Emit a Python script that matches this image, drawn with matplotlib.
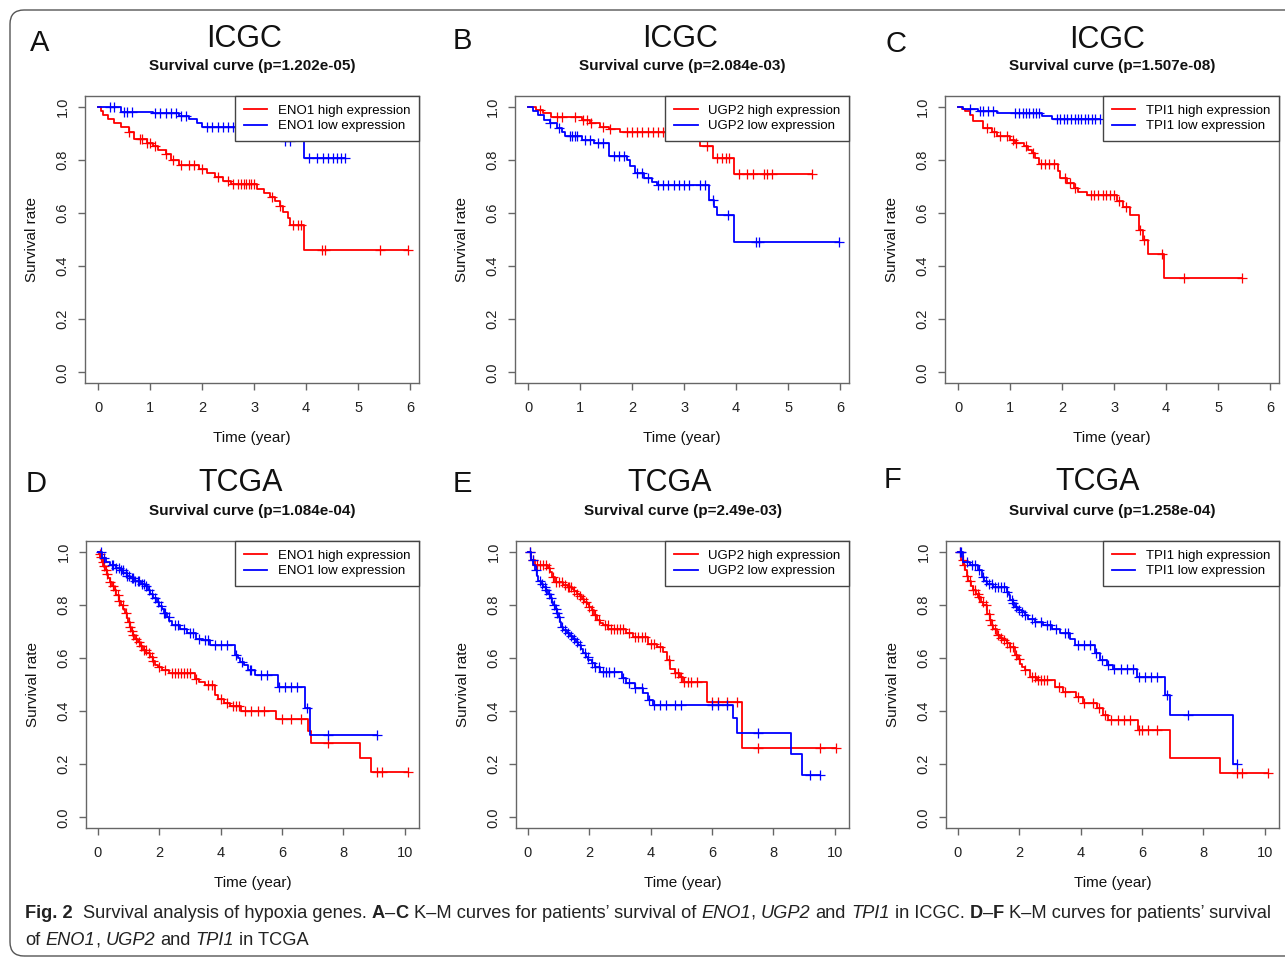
import numpy as np
import matplotlib
matplotlib.use('Agg')
import matplotlib.pyplot as plt
from matplotlib.patches import FancyBboxPatch

plt.rcParams['font.family'] = 'Liberation Sans'

# ---- KM curves: drop times, survival after drop, censor times ----
# A: ICGC ENO1
a_hi_t = [0, 0.05, 0.1, 0.2, 0.3, 0.45, 0.6, 0.7, 0.95, 1.05, 1.15, 1.3, 1.4, 1.55, 1.95, 2.1, 2.25, 2.4, 2.55, 3.05, 3.2, 3.3, 3.4, 3.5, 3.55, 3.65, 3.7, 3.95]
a_hi_s = [1.0, 0.985, 0.97, 0.955, 0.94, 0.925, 0.905, 0.88, 0.865, 0.85, 0.835, 0.82, 0.80, 0.78, 0.765, 0.75, 0.735, 0.72, 0.71, 0.69, 0.675, 0.66, 0.645, 0.625, 0.605, 0.58, 0.555, 0.46]
a_hi_c = [0.6, 0.8, 0.85, 0.95, 1.0, 1.1, 1.3, 1.45, 1.6, 1.75, 1.85, 2.0, 2.3, 2.5, 2.6, 2.7, 2.75, 2.8, 2.85, 2.9, 2.95, 3.0, 3.35, 3.5, 3.75, 3.85, 3.9, 4.3, 4.37, 5.42, 5.96]
a_lo_t = [0, 0.45, 1.05, 1.55, 1.75, 1.9, 2.0, 3.3, 3.5, 3.95]
a_lo_s = [1.0, 0.98, 0.975, 0.965, 0.955, 0.94, 0.925, 0.905, 0.87, 0.805]
a_lo_c = [0.24, 0.3, 0.5, 0.55, 0.65, 1.1, 1.2, 1.3, 1.4, 1.5, 1.6, 1.7, 2.1, 2.2, 2.3, 2.4, 2.5, 2.6, 2.7, 2.8, 2.9, 3.0, 3.1, 3.2, 3.6, 3.7, 4.05, 4.2, 4.33, 4.43, 4.51, 4.59, 4.68, 4.75]

# B: ICGC UGP2
b_hi_t = [0, 0.16, 0.29, 0.45, 1.03, 1.19, 1.38, 1.55, 1.77, 3.1, 3.3, 3.55, 3.95]
b_hi_s = [1.0, 0.987, 0.975, 0.961, 0.95, 0.938, 0.925, 0.915, 0.903, 0.885, 0.85, 0.807, 0.745]
b_hi_c = [0.23, 0.55, 0.65, 0.9, 1.06, 1.13, 1.22, 1.45, 1.58, 1.9, 2.0, 2.1, 2.2, 2.3, 2.4, 2.5, 2.6, 2.67, 3.44, 3.63, 3.72, 3.8, 3.87, 4.05, 4.2, 4.33, 4.53, 4.59, 4.69, 5.45]
b_lo_t = [0, 0.1, 0.2, 0.3, 0.42, 0.55, 0.65, 0.71, 1.03, 1.26, 1.55, 1.9, 1.96, 2.06, 2.22, 2.38, 2.47, 3.47, 3.58, 3.63, 3.95]
b_lo_s = [1.0, 0.983, 0.97, 0.95, 0.938, 0.919, 0.906, 0.888, 0.875, 0.862, 0.813, 0.8, 0.775, 0.75, 0.73, 0.718, 0.706, 0.649, 0.624, 0.593, 0.492]
b_lo_c = [0.42, 0.6, 0.8, 0.85, 0.9, 0.95, 1.1, 1.2, 1.35, 1.45, 1.65, 1.75, 1.85, 2.1, 2.2, 2.3, 2.5, 2.6, 2.7, 2.8, 2.9, 3.0, 3.1, 3.3, 3.4, 3.55, 3.85, 4.38, 4.44, 5.97]

# C: ICGC TPI1
c_hi_t = [0, 0.07, 0.13, 0.23, 0.29, 0.49, 0.65, 0.74, 1.0, 1.1, 1.26, 1.35, 1.42, 1.48, 1.55, 1.93, 1.96, 2.09, 2.22, 2.31, 2.47, 3.05, 3.18, 3.31, 3.47, 3.56, 3.66, 3.95]
c_hi_s = [1.0, 0.99, 0.983, 0.97, 0.945, 0.919, 0.903, 0.888, 0.875, 0.862, 0.85, 0.837, 0.825, 0.806, 0.785, 0.757, 0.73, 0.712, 0.693, 0.68, 0.668, 0.643, 0.624, 0.593, 0.536, 0.498, 0.447, 0.356]
c_hi_c = [0.55, 0.7, 0.8, 0.95, 1.05, 1.12, 1.3, 1.45, 1.6, 1.68, 1.75, 1.85, 2.05, 2.15, 2.25, 2.55, 2.62, 2.7, 2.78, 2.85, 2.92, 3.0, 3.1, 3.22, 3.5, 3.58, 3.93, 4.35, 5.45]
c_lo_t = [0, 0.1, 0.39, 0.74, 1.61, 1.8]
c_lo_s = [1.0, 0.99, 0.983, 0.975, 0.965, 0.955]
c_lo_c = [0.24, 0.42, 0.49, 0.58, 0.68, 1.1, 1.17, 1.24, 1.3, 1.37, 1.44, 1.5, 1.56, 1.9, 1.97, 2.04, 2.1, 2.17, 2.24, 2.3, 2.37, 2.44, 2.5, 2.57, 2.64, 2.72]

# D: TCGA ENO1
d_hi_t = [0, 0.03, 0.08, 0.13, 0.18, 0.23, 0.28, 0.33, 0.38, 0.45, 0.52, 0.6, 0.68, 0.75, 0.82, 0.88, 0.93, 0.98, 1.03, 1.08, 1.13, 1.2, 1.3, 1.38, 1.48, 1.58, 1.68, 1.78, 1.85, 1.95, 2.1, 2.3, 3.15, 3.3, 3.5, 3.8, 3.9, 4.1, 4.3, 4.65, 5.8, 6.85, 6.95, 8.55, 8.9]
d_hi_s = [1.0, 0.99, 0.98, 0.96, 0.945, 0.93, 0.915, 0.9, 0.885, 0.87, 0.855, 0.835, 0.815, 0.8, 0.785, 0.77, 0.75, 0.735, 0.715, 0.7, 0.685, 0.67, 0.66, 0.645, 0.63, 0.62, 0.605, 0.59, 0.575, 0.565, 0.555, 0.545, 0.52, 0.51, 0.5, 0.46, 0.445, 0.43, 0.42, 0.4, 0.37, 0.325, 0.28, 0.225, 0.17]
d_hi_c = [0.05, 0.1, 0.15, 0.2, 0.25, 0.3, 0.4, 0.5, 0.55, 0.65, 0.7, 0.8, 0.9, 1.0, 1.05, 1.1, 1.15, 1.25, 1.35, 1.4, 1.5, 1.55, 1.65, 1.75, 1.8, 2.0, 2.2, 2.4, 2.5, 2.6, 2.7, 2.8, 2.9, 3.0, 3.2, 3.6, 3.7, 4.0, 4.2, 4.4, 4.5, 4.6, 4.8, 5.0, 5.2, 5.4, 6.0, 6.3, 6.6, 7.5, 9.1, 9.25, 10.1]
d_lo_t = [0, 0.12, 0.25, 0.39, 0.6, 0.75, 0.83, 0.95, 1.04, 1.2, 1.4, 1.53, 1.62, 1.7, 1.8, 1.91, 2.0, 2.07, 2.15, 2.24, 2.32, 2.4, 2.67, 2.89, 3.21, 3.43, 3.65, 4.46, 4.55, 4.63, 4.75, 4.9, 5.12, 5.87, 6.74, 6.91]
d_lo_s = [1.0, 0.975, 0.96, 0.95, 0.94, 0.93, 0.92, 0.91, 0.9, 0.89, 0.88, 0.87, 0.855, 0.842, 0.825, 0.81, 0.795, 0.785, 0.77, 0.754, 0.74, 0.723, 0.71, 0.692, 0.673, 0.667, 0.648, 0.61, 0.598, 0.585, 0.573, 0.554, 0.535, 0.492, 0.411, 0.311]
d_lo_c = [0.1, 0.2, 0.45, 0.5, 0.6, 0.7, 0.75, 0.8, 0.9, 0.95, 1.0, 1.1, 1.15, 1.2, 1.3, 1.35, 1.45, 1.5, 1.55, 1.65, 1.75, 1.85, 1.95, 2.05, 2.15, 2.2, 2.3, 2.5, 2.6, 2.8, 3.0, 3.1, 3.3, 3.5, 3.6, 3.8, 4.0, 4.2, 4.5, 4.7, 4.95, 5.0, 5.3, 5.5, 5.9, 6.1, 6.3, 6.5, 6.8, 7.5, 9.08]

# E: TCGA UGP2
e_hi_t = [0, 0.1, 0.23, 0.66, 0.72, 0.77, 0.88, 1.15, 1.3, 1.42, 1.5, 1.59, 1.68, 1.75, 1.83, 1.91, 2.0, 2.07, 2.15, 2.24, 2.35, 2.45, 2.62, 3.21, 3.43, 3.92, 4.19, 4.41, 4.52, 4.63, 4.79, 4.95, 5.06, 5.82, 6.96]
e_hi_s = [1.0, 0.97, 0.95, 0.94, 0.925, 0.906, 0.886, 0.874, 0.868, 0.861, 0.85, 0.842, 0.832, 0.823, 0.812, 0.804, 0.79, 0.779, 0.76, 0.742, 0.73, 0.723, 0.71, 0.692, 0.679, 0.654, 0.642, 0.623, 0.592, 0.56, 0.542, 0.529, 0.51, 0.435, 0.261]
e_hi_c = [0.05, 0.15, 0.3, 0.4, 0.5, 0.6, 0.7, 0.8, 0.9, 1.0, 1.1, 1.2, 1.3, 1.35, 1.4, 1.5, 1.6, 1.7, 1.8, 1.9, 2.0, 2.1, 2.2, 2.3, 2.5, 2.6, 2.7, 2.8, 2.9, 3.0, 3.1, 3.3, 3.5, 3.6, 3.7, 3.8, 4.0, 4.1, 4.3, 4.6, 4.8, 4.9, 5.0, 5.1, 5.2, 5.3, 5.5, 6.0, 6.2, 6.5, 6.8, 7.5, 9.5, 10.05]
e_lo_t = [0, 0.1, 0.17, 0.23, 0.28, 0.34, 0.42, 0.5, 0.58, 0.66, 0.72, 0.77, 0.82, 0.88, 0.93, 0.99, 1.04, 1.09, 1.15, 1.26, 1.37, 1.48, 1.56, 1.64, 1.72, 1.8, 1.88, 1.97, 2.07, 2.18, 2.35, 3.05, 3.21, 3.48, 3.76, 3.92, 4.08, 6.69, 6.82, 8.56, 8.92]
e_lo_s = [1.0, 0.97, 0.95, 0.93, 0.91, 0.89, 0.88, 0.866, 0.855, 0.842, 0.825, 0.81, 0.8, 0.785, 0.77, 0.754, 0.735, 0.717, 0.705, 0.692, 0.683, 0.673, 0.66, 0.648, 0.632, 0.617, 0.605, 0.592, 0.58, 0.567, 0.548, 0.523, 0.504, 0.485, 0.467, 0.442, 0.423, 0.373, 0.317, 0.238, 0.158]
e_lo_c = [0.05, 0.15, 0.25, 0.4, 0.45, 0.55, 0.6, 0.7, 0.75, 0.85, 0.9, 0.95, 1.0, 1.1, 1.2, 1.3, 1.4, 1.5, 1.6, 1.7, 1.85, 1.95, 2.1, 2.2, 2.3, 2.45, 2.55, 2.65, 2.8, 3.1, 3.3, 3.5, 3.7, 3.95, 4.1, 4.3, 4.5, 4.8, 5.0, 6.0, 6.2, 6.5, 7.5, 9.2, 9.51]

# F: TCGA TPI1
f_hi_t = [0, 0.1, 0.17, 0.23, 0.28, 0.34, 0.42, 0.5, 0.58, 0.66, 0.75, 0.83, 0.93, 1.04, 1.1, 1.15, 1.26, 1.37, 1.48, 1.6, 1.7, 1.86, 1.94, 2.02, 2.1, 2.18, 2.35, 2.56, 3.16, 3.43, 3.86, 4.08, 4.52, 4.73, 4.9, 5.87, 6.91, 8.54]
f_hi_s = [1.0, 0.97, 0.95, 0.93, 0.91, 0.89, 0.87, 0.854, 0.84, 0.829, 0.81, 0.798, 0.767, 0.742, 0.725, 0.71, 0.686, 0.675, 0.667, 0.655, 0.642, 0.61, 0.595, 0.579, 0.565, 0.554, 0.529, 0.517, 0.492, 0.473, 0.454, 0.429, 0.41, 0.386, 0.367, 0.329, 0.224, 0.167]
f_hi_c = [0.05, 0.15, 0.2, 0.3, 0.4, 0.5, 0.55, 0.65, 0.7, 0.8, 0.9, 1.0, 1.05, 1.1, 1.2, 1.3, 1.4, 1.5, 1.6, 1.7, 1.8, 1.9, 2.0, 2.2, 2.4, 2.5, 2.6, 2.7, 2.8, 2.9, 3.3, 3.5, 3.9, 4.1, 4.4, 4.6, 4.8, 5.0, 5.2, 5.4, 5.6, 5.9, 6.0, 6.2, 6.5, 9.1, 9.25, 10.1]
f_lo_t = [0, 0.17, 0.39, 0.66, 0.77, 0.85, 0.93, 1.15, 1.59, 1.65, 1.7, 1.78, 1.86, 1.96, 2.07, 2.18, 2.29, 2.5, 2.78, 3.05, 3.32, 3.65, 3.81, 4.46, 4.63, 4.84, 5.06, 5.82, 6.74, 6.91, 8.95]
f_lo_s = [1.0, 0.96, 0.95, 0.93, 0.905, 0.89, 0.88, 0.866, 0.848, 0.835, 0.817, 0.805, 0.792, 0.782, 0.773, 0.76, 0.748, 0.736, 0.723, 0.71, 0.692, 0.673, 0.648, 0.617, 0.592, 0.573, 0.56, 0.529, 0.461, 0.386, 0.199]
f_lo_c = [0.05, 0.1, 0.3, 0.45, 0.55, 0.7, 0.8, 0.9, 1.0, 1.1, 1.2, 1.3, 1.4, 1.5, 1.6, 1.75, 1.8, 1.9, 2.0, 2.1, 2.2, 2.4, 2.5, 2.7, 2.9, 3.0, 3.2, 3.5, 3.6, 3.9, 4.1, 4.3, 4.5, 4.7, 4.9, 5.1, 5.3, 5.5, 5.7, 5.9, 6.1, 6.3, 6.5, 6.8, 7.5, 9.1]

letters = ['A', 'B', 'C', 'D', 'E', 'F']
cohorts = ['ICGC', 'ICGC', 'ICGC', 'TCGA', 'TCGA', 'TCGA']
pvals = ['1.202e-05', '2.084e-03', '1.507e-08', '1.084e-04', '2.49e-03', '1.258e-04']
genes = ['ENO1', 'UGP2', 'TPI1', 'ENO1', 'UGP2', 'TPI1']
curves = [
    ((a_hi_t, a_hi_s, a_hi_c), (a_lo_t, a_lo_s, a_lo_c)),
    ((b_hi_t, b_hi_s, b_hi_c), (b_lo_t, b_lo_s, b_lo_c)),
    ((c_hi_t, c_hi_s, c_hi_c), (c_lo_t, c_lo_s, c_lo_c)),
    ((d_hi_t, d_hi_s, d_hi_c), (d_lo_t, d_lo_s, d_lo_c)),
    ((e_hi_t, e_hi_s, e_hi_c), (e_lo_t, e_lo_s, e_lo_c)),
    ((f_hi_t, f_hi_s, f_hi_c), (f_lo_t, f_lo_s, f_lo_c)),
]

W, H = 1285, 958
fig = plt.figure(figsize=(W / 100, H / 100), dpi=100)
fig.patch.set_facecolor('white')

GRAY = '#666666'


def fx(x):
    return x / W


def fy(y):
    return 1 - y / H


def km(ax, t, s, cens, color, label):
    t = np.asarray(t, float)
    s = np.asarray(s, float)
    tend = max(cens)
    ax.step(np.append(t, tend), np.append(s, s[-1]), where='post',
            color=color, lw=1.3, label=label)
    idx = np.searchsorted(t, cens, side='right') - 1
    ax.plot(cens, s[idx], ls='none', marker='+', ms=7, mew=0.9, color=color)


letter_pos = [(40, 43), (462, 41), (896, 44), (36, 484), (462, 484), (893, 480)]
cohort_pos = [(244, 39), (680, 39), (1107, 40), (241, 483), (670, 483), (1098, 482)]

for i in range(6):
    row, col = divmod(i, 3)
    if row == 0:
        l, t, r, b = 85 + 430 * col, 96, 419 + 430 * col, 383
        xlim, xt = (-0.25, 6.17), np.arange(0, 7, 1)
        sub_y = 66
    else:
        l, t, r, b = 86 + 430 * col, 541, 419 + 430 * col, 828
        xlim, xt = (-0.39, 10.46), np.arange(0, 11, 2)
        sub_y = 511
    ax = fig.add_axes([fx(l), fy(b), (r - l) / W, (b - t) / H])
    hi, lo = curves[i]
    km(ax, *hi, color='#FF0000', label=f'{genes[i]} high expression')
    km(ax, *lo, color='#0000FF', label=f'{genes[i]} low expression')
    ax.set_xlim(*xlim)
    ax.set_ylim(-0.04, 1.04)
    ax.set_xticks(xt)
    ax.set_xticklabels([str(v) for v in xt])
    ax.set_yticks(np.arange(0, 1.01, 0.2))
    ax.set_yticklabels([f'{v:.1f}' for v in np.arange(0, 1.01, 0.2)])
    for sp in ax.spines.values():
        sp.set_color(GRAY)
        sp.set_linewidth(1.0)
    ax.tick_params(direction='out', length=5, width=1.0, color=GRAY,
                   labelsize=10.5, labelcolor='#222222')
    ax.tick_params(axis='x', pad=8)
    ax.tick_params(axis='y', pad=6)
    for lab in ax.get_yticklabels():
        lab.set_rotation(90)
        lab.set_va('center')
    leg = ax.legend(loc='upper right', bbox_to_anchor=(1, 1), borderaxespad=0,
                    fontsize=9.5, frameon=True, fancybox=False, framealpha=1,
                    handlelength=1.8, handletextpad=0.8, labelspacing=0.25,
                    borderpad=0.65)
    leg.get_frame().set_edgecolor('#444444')
    leg.get_frame().set_linewidth(1.0)

    cx = (l + r) / 2
    fig.text(fx(letter_pos[i][0]), fy(letter_pos[i][1]), letters[i], fontsize=21,
             ha='center', va='center', color='#111111')
    fig.text(fx(cohort_pos[i][0]), fy(cohort_pos[i][1]), cohorts[i], fontsize=22,
             ha='center', va='center', color='#111111')
    fig.text(fx(cx), fy(sub_y), f'Survival curve (p={pvals[i]})', fontsize=11,
             fontweight='bold', ha='center', va='center', color='#111111')
    fig.text(fx(l - 53), fy((t + b) / 2), 'Survival rate', fontsize=11,
             rotation=90, ha='center', va='center', color='#111111')
    fig.text(fx(cx), fy(b + 55), 'Time (year)', fontsize=11,
             ha='center', va='center', color='#111111')

# rounded frame around the whole figure
frame = FancyBboxPatch((10, H - 956), 1320, 946,
                       boxstyle='round,pad=0,rounding_size=14',
                       transform=None, fill=False, ec='#555555', lw=1.0)
fig.patches.append(frame)

# caption, mixed bold / italic runs placed one after another
line1 = [('Fig. 2', 'b', 2), ('Survival analysis of hypoxia genes.', 'n', 1),
         ('A', 'b', 0), ('\u2013', 'n', 0), ('C', 'b', 1),
         ('K\u2013M curves for patients\u2019 survival of', 'n', 1),
         ('ENO1', 'i', 0), (',', 'n', 1), ('UGP2', 'i', 1), ('and', 'n', 1),
         ('TPI1', 'i', 1), ('in ICGC.', 'n', 1), ('D', 'b', 0), ('\u2013', 'n', 0),
         ('F', 'b', 1), ('K\u2013M curves for patients\u2019 survival', 'n', 0)]
line2 = [('of', 'n', 1), ('ENO1', 'i', 0), (',', 'n', 1), ('UGP2', 'i', 1),
         ('and', 'n', 1), ('TPI1', 'i', 1), ('in TCGA', 'n', 0)]

renderer = fig.canvas.get_renderer()


def style_kw(st, size):
    return dict(fontsize=size, family='Liberation Sans',
                fontweight='bold' if st == 'b' else 'normal',
                fontstyle='italic' if st == 'i' else 'normal', color='#222222')


def width_of(txt, st, size):
    tt = fig.text(0, 0, txt, **style_kw(st, size))
    w = tt.get_window_extent(renderer=renderer).width
    tt.remove()
    return w


def space_w(size):
    return width_of('x x', 'n', size) - width_of('xx', 'n', size)


def line_width(pieces, size):
    sw = space_w(size)
    return sum(width_of(p, st, size) + n * sw for p, st, n in pieces)


size = 10.0
size = size * (1278 - 25) / line_width(line1, size)


def draw_line(pieces, x, y, size):
    sw = space_w(size)
    for p, st, n in pieces:
        tt = fig.text(fx(x), fy(y), p, va='baseline', ha='left', **style_kw(st, size))
        x += tt.get_window_extent(renderer=renderer).width + n * sw


draw_line(line1, 25, 918, size)
draw_line(line2, 25, 945, size)

fig.savefig('out.png', dpi=100, facecolor='white')
